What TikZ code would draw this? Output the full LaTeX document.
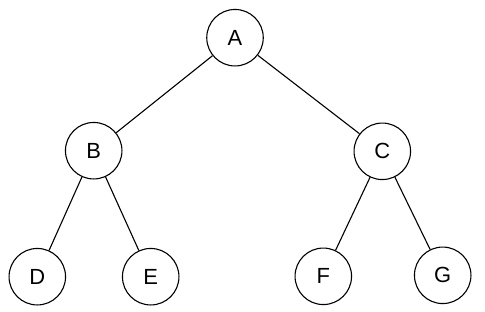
\documentclass[tikz,border=0pt]{standalone}
\usepackage{fontspec}
\setmainfont{Liberation Sans}
\begin{document}
\begin{tikzpicture}[x=1bp,y=-1bp,
  treenode/.style={circle,draw,line width=1.1bp,minimum size=56.5bp,inner sep=0pt,font=\fontsize{22}{26}\selectfont},
  edge/.style={line width=1.1bp}]
\useasboundingbox (0,0) rectangle (485,311);
\node[treenode] (A) at (235,37.7) {A};
\node[treenode] (B) at (93.7,150.7) {B};
\node[treenode] (C) at (382.3,151.3) {C};
\node[treenode] (D) at (37.3,276.7) {D};
\node[treenode] (E) at (150.7,276.7) {E};
\node[treenode] (F) at (323.3,276.3) {F};
\node[treenode] (G) at (442.7,275.3) {G};
\draw[edge] (A) -- (B);
\draw[edge] (A) -- (C);
\draw[edge] (B) -- (D);
\draw[edge] (B) -- (E);
\draw[edge] (C) -- (F);
\draw[edge] (C) -- (G);
\end{tikzpicture}
\end{document}
